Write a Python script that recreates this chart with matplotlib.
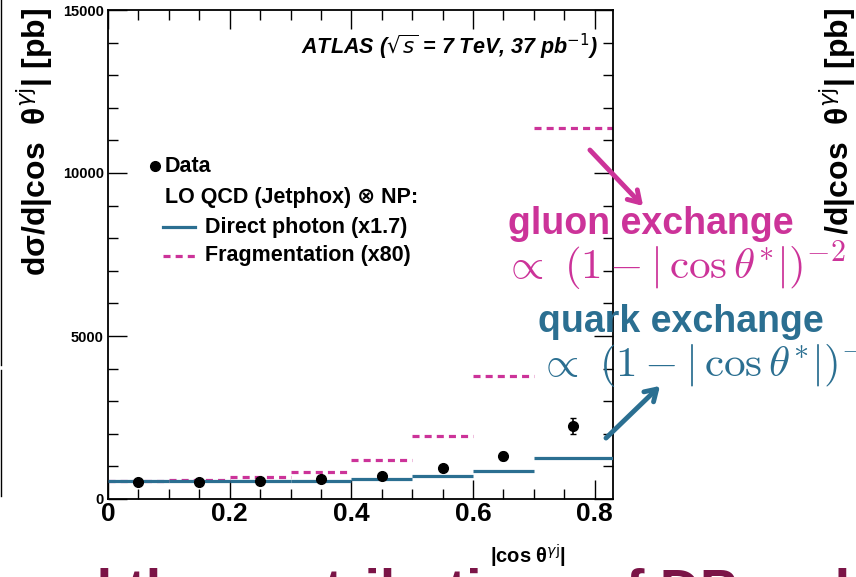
import matplotlib
matplotlib.use("Agg")
import matplotlib.pyplot as plt
from matplotlib.lines import Line2D
from matplotlib.ticker import MultipleLocator, FuncFormatter
from matplotlib.transforms import Bbox

plt.rcParams['font.family'] = ['Liberation Sans', 'DejaVu Sans']

# binning and values
bin_edges = [0.0, 0.1, 0.2, 0.3, 0.4, 0.5, 0.6, 0.7, 0.83]
data_x = [0.05, 0.15, 0.25, 0.35, 0.45, 0.55, 0.65, 0.765]
data_y = [530, 530, 550, 610, 715, 960, 1320, 2240]
data_err = [40, 40, 40, 50, 60, 80, 110, 250]
direct_photon = [550, 550, 560, 565, 605, 705, 870, 1250]
fragmentation = [540, 585, 675, 830, 1190, 1930, 3760, 11380]

blue = '#2b6f91'
pink = '#cc3399'
maroon = '#7b1447'
dash = (0, (2.2, 1.6))

W, H = 856, 577
def fx(x):
    return x / W
def fy(y):
    return 1 - y / H

fig = plt.figure(figsize=(8.56, 5.77), dpi=100)
ax = fig.add_axes([fx(108), fy(499), (613 - 108) / W, (499 - 10) / H])

ax.hlines(fragmentation, bin_edges[:-1], bin_edges[1:], colors=pink,
          linestyles=dash, linewidth=2.3, zorder=2)
ax.hlines(direct_photon, bin_edges[:-1], bin_edges[1:], colors=blue,
          linewidth=2.3, zorder=3)
ax.errorbar(data_x, data_y, yerr=data_err, fmt='o', color='black',
            markersize=7, capsize=2.5, elinewidth=1.2, zorder=4)

ax.set_xlim(0, 0.83)
ax.set_ylim(0, 15000)
ax.xaxis.set_major_locator(MultipleLocator(0.2))
ax.xaxis.set_minor_locator(MultipleLocator(0.05))
ax.yaxis.set_major_locator(MultipleLocator(5000))
ax.yaxis.set_minor_locator(MultipleLocator(1000))
ax.xaxis.set_major_formatter(FuncFormatter(lambda v, p: '%g' % round(v, 2)))
ax.tick_params(which='both', direction='in', top=True, right=True, width=1)
ax.tick_params(which='major', length=14)
ax.tick_params(which='minor', length=7)
ax.tick_params(axis='x', labelsize=19, pad=2)
ax.tick_params(axis='y', labelsize=10.5, pad=3)
for lab in ax.get_xticklabels() + ax.get_yticklabels():
    lab.set_fontweight('bold')
for s in ax.spines.values():
    s.set_linewidth(1.3)

ax.text(0.97, 0.925, r'ATLAS ($\sqrt{s}$ = 7 TeV, 37 pb$^{-1}$)', transform=ax.transAxes,
        ha='right', va='center', fontsize=15.5, fontweight='bold', style='italic')

# legend, ROOT style
fs_leg = 15.5
fig.add_artist(Line2D([fx(155)], [fy(166)], marker='o', color='black', markersize=7))
fig.text(fx(165), fy(166), 'Data', fontsize=fs_leg, fontweight='bold', va='center')
fig.text(fx(165), fy(197), 'LO QCD (Jetphox) ⊗ NP:', fontsize=fs_leg, fontweight='bold', va='center')
fig.add_artist(Line2D([fx(163), fx(195)], [fy(227), fy(227)], color=blue, lw=2.3))
fig.text(fx(205), fy(227), 'Direct photon (x1.7)', fontsize=fs_leg, fontweight='bold', va='center')
fig.add_artist(Line2D([fx(163), fx(195)], [fy(256), fy(256)], color=pink, lw=2.3, linestyle=dash))
fig.text(fx(205), fy(256), 'Fragmentation (x80)', fontsize=fs_leg, fontweight='bold', va='center')

# axis titles
ylab = r'dσ/d|cos  θ$^{\gamma \mathrm{j}}$| [pb]'
fig.text(fx(35), fy(8), ylab, rotation=90, ha='center', va='top', fontsize=23, fontweight='bold')
fig.text(fx(566), fy(556), r'|cos θ$^{\gamma \mathrm{j}}$|', ha='right', va='center',
         fontsize=14.5, fontweight='bold')

# neighbouring slide content, cut by the crop
right_lab = fig.text(fx(838), fy(8), ylab, rotation=90, ha='center', va='top',
                     fontsize=23, fontweight='bold')
right_lab.set_clip_box(Bbox.from_extents(800, H - 234, W, H))
right_lab.set_clip_on(True)
fig.add_artist(Line2D([fx(1), fx(1)], [fy(0), fy(365)], color='black', lw=1))
fig.add_artist(Line2D([fx(1), fx(1)], [fy(370), fy(496)], color='black', lw=1))
fig.text(fx(580), fy(608), 'helicity and the contributions', color=maroon,
         fontsize=40, fontweight='bold', va='baseline', ha='right')
fig.text(fx(592), fy(608), 'of DP and Frag.', color=maroon,
         fontsize=40, fontweight='bold', va='baseline', ha='left')

# annotations
fig.text(fx(508), fy(224), 'gluon exchange', color=pink, fontsize=27, fontweight='bold', va='center')
fig.text(fx(503), fy(266), r'$\propto\ (1 - |\,\cos\theta^{*}|)^{-2}$', color=pink, fontsize=31,
         va='center', math_fontfamily='cm')
fig.text(fx(538), fy(322), 'quark exchange', color=blue, fontsize=27, fontweight='bold', va='center')
fig.text(fx(538), fy(364), r'$\propto\ (1 - |\,\cos\theta^{*}|)^{-1}$', color=blue, fontsize=31,
         va='center', math_fontfamily='cm')
ax.annotate('', xy=(645, H - 208), xytext=(588, H - 148), xycoords='figure pixels',
            textcoords='figure pixels', annotation_clip=False,
            arrowprops=dict(arrowstyle='->,head_length=0.8,head_width=0.5', color=pink, lw=3.5))
ax.annotate('', xy=(662, H - 384), xytext=(604, H - 440), xycoords='figure pixels',
            textcoords='figure pixels', annotation_clip=False,
            arrowprops=dict(arrowstyle='->,head_length=0.8,head_width=0.5', color=blue, lw=3.5))

fig.savefig('out.png', dpi=100)
